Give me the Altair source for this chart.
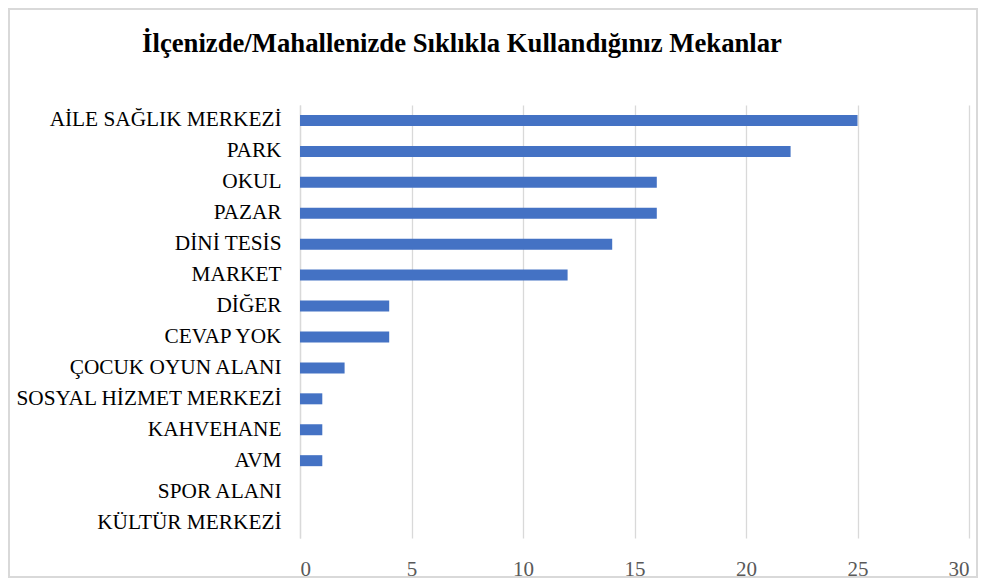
import altair as alt
import pandas as pd

title_text = "İlçenizde/Mahallenizde Sıklıkla Kullandığınız Mekanlar"
categories = ["AİLE SAĞLIK MERKEZİ", "PARK", "OKUL", "PAZAR", "DİNİ TESİS", "MARKET",
              "DİĞER", "CEVAP YOK", "ÇOCUK OYUN ALANI", "SOSYAL HİZMET MERKEZİ",
              "KAHVEHANE", "AVM", "SPOR ALANI", "KÜLTÜR MERKEZİ"]
values = [25, 22, 16, 16, 14, 12, 4, 4, 2, 1, 1, 1, 0, 0]
x_ticks = [0, 5, 10, 15, 20, 25, 30]

df = pd.DataFrame({"cat": categories, "val": values})
SERIF = "Liberation Serif"

bars = alt.Chart(df).mark_bar(color="#4472C4", size=11).encode(
    x=alt.X("val:Q", scale=alt.Scale(domain=[0, 30], nice=False),
            axis=alt.Axis(values=x_ticks, title=None, domain=False, ticks=False,
                          grid=True, gridColor="#d9d9d9", gridWidth=1.3,
                          labelFont=SERIF, labelFontSize=21, labelColor="#595959",
                          labelPadding=20)),
    y=alt.Y("cat:N", sort=categories,
            axis=alt.Axis(title=None, ticks=False, domain=True, domainColor="#d9d9d9",
                          domainWidth=1.3, labelFont=SERIF, labelFontSize=21.3,
                          labelColor="#000000", labelPadding=19, labelLimit=400)),
)

frame = alt.Chart(df).mark_rect(fillOpacity=0, stroke="#d9d9d9", strokeWidth=1.5).encode(
    x=alt.value(-291), x2=alt.value(677), y=alt.value(-96), y2=alt.value(472)
)

title = alt.Chart(pd.DataFrame({"t": [title_text]})).mark_text(
    font=SERIF, fontSize=26.7, fontWeight="bold", color="#000000",
    align="center", baseline="alphabetic"
).encode(text="t:N", x=alt.value(162), y=alt.value(-53))

chart = alt.layer(frame, bars, title).properties(
    width=669, height=433,
    autosize=alt.AutoSizeParams(type="none"),
    padding={"left": 292, "top": 97, "right": 9, "bottom": 41},
).configure_view(stroke=None)

chart.save("out.html", embed_options={"renderer": "svg", "actions": False})
